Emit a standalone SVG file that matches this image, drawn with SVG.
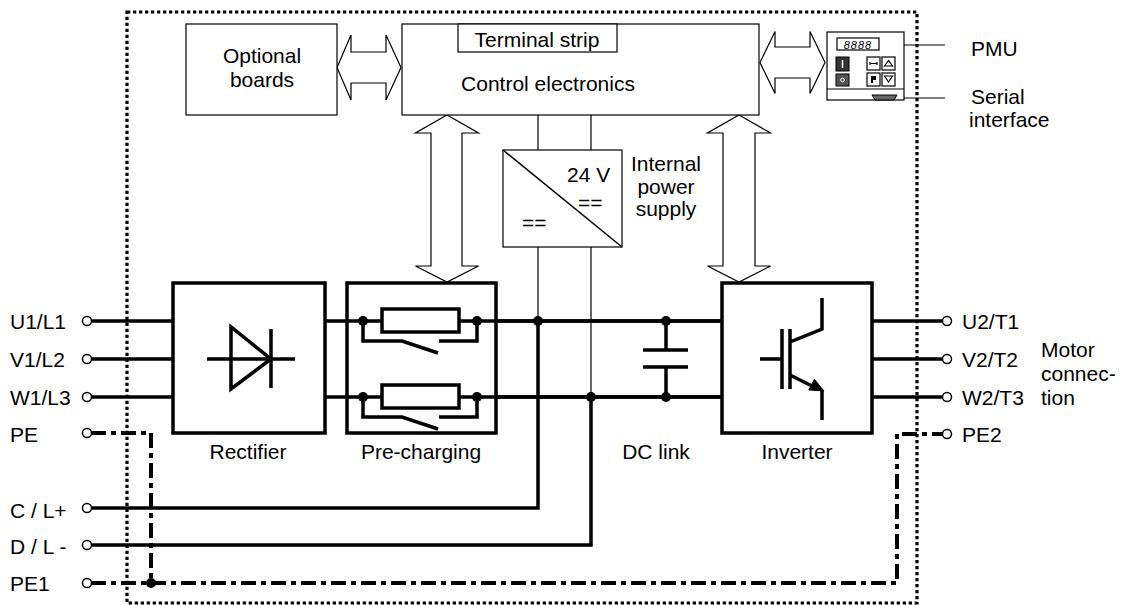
<svg xmlns="http://www.w3.org/2000/svg" width="1121" height="605" viewBox="0 0 1121 605">
<style>
text{font-family:"Liberation Sans",Arial,sans-serif;font-size:21px;fill:#000}
.thin{fill:#fff;stroke:#000;stroke-width:1.2}
.box{fill:#fff;stroke:#000;stroke-width:3.5}
.w{fill:none;stroke:#000;stroke-width:3.5}
.wt{fill:none;stroke:#000;stroke-width:1.2}
.pe{fill:none;stroke:#000;stroke-width:4;stroke-dasharray:15 5 5 5}
.term{fill:#fff;stroke:#000;stroke-width:1.5}
.dot{fill:#000}
.mid{text-anchor:middle}
</style>
<rect width="1121" height="605" fill="#fff"/>

<g id="connectors">
  <path class="w" d="M91 321H173M91 359H173M91 397H173"/>
  <path class="w" d="M325 321H722M325 397H722"/>
  <path class="w" d="M872 321H943M872 359H943M872 397H943"/>
  <path class="w" d="M91 508H538V321M91 545H591V397"/>
  <path class="wt" d="M538 115V321M591 115V397"/>
  <path class="pe" d="M91 433H151V583"/>
  <path class="pe" d="M91 583H897V434H943"/>
  <circle class="dot" cx="151" cy="583" r="5"/>
  <path class="w" d="M666 321V350M643 350H688M643 367H688M666 367V397"/>
  <circle class="dot" cx="538" cy="321" r="5"/>
  <circle class="dot" cx="591" cy="397" r="5"/>
  <circle class="dot" cx="666" cy="321" r="5"/>
  <circle class="dot" cx="666" cy="397" r="5"/>
  <polygon class="thin" points="337,67.5 351,35 351,52 386,52 386,35 401,67.5 386,100 386,83 351,83 351,100"/>
  <polygon class="thin" points="760,62.5 775,31.5 775,47 810,47 810,31.5 825,62.5 810,93.5 810,78 775,78 775,93.5"/>
  <polygon class="thin" points="447,115 478.5,133 462,133 462,266 478.5,266 447,282 415.5,266 431,266 431,133 415.5,133"/>
  <polygon class="thin" points="739,115 770.5,133 755,133 755,266 770.5,266 739,282 707.5,266 723,266 723,133 707.5,133"/>
  <path class="wt" d="M892 45H945M897 98H945"/>
</g>

<g id="terminals">
  <circle class="term" cx="87" cy="321" r="4.5"/>
  <circle class="term" cx="87" cy="359" r="4.5"/>
  <circle class="term" cx="87" cy="397" r="4.5"/>
  <circle class="term" cx="87" cy="433" r="4.5"/>
  <circle class="term" cx="87" cy="508" r="4.5"/>
  <circle class="term" cx="87" cy="545" r="4.5"/>
  <circle class="term" cx="87" cy="583" r="4.5"/>
  <circle class="term" cx="947" cy="321" r="4.5"/>
  <circle class="term" cx="947" cy="359" r="4.5"/>
  <circle class="term" cx="947" cy="397" r="4.5"/>
  <circle class="term" cx="947" cy="434" r="4.5"/>
  <text x="10" y="329">U1/L1</text>
  <text x="10" y="367">V1/L2</text>
  <text x="10" y="405">W1/L3</text>
  <text x="10" y="442">PE</text>
  <text x="10" y="518">C / L+</text>
  <text x="10" y="554">D / L -</text>
  <text x="10" y="591">PE1</text>
  <text x="962" y="329">U2/T1</text>
  <text x="962" y="367">V2/T2</text>
  <text x="962" y="405">W2/T3</text>
  <text x="962" y="442">PE2</text>
  <text x="1041" y="357">Motor</text>
  <text x="1041" y="381">connec-</text>
  <text x="1041" y="405">tion</text>
</g>

<g id="optional-boards">
  <rect class="thin" x="186" y="24" width="151" height="91"/>
  <text class="mid" x="262" y="63">Optional</text>
  <text class="mid" x="262" y="87">boards</text>
</g>

<g id="control-electronics">
  <rect class="thin" x="402" y="24" width="357" height="91"/>
  <rect class="thin" x="458" y="24" width="159" height="28"/>
  <text class="mid" x="537" y="47">Terminal strip</text>
  <text class="mid" x="548" y="91">Control electronics</text>
</g>

<g id="pmu">
  <rect class="thin" x="827" y="32" width="77" height="68"/>
  <line class="wt" x1="827" y1="89" x2="904" y2="89"/>
  <rect class="thin" x="837" y="38" width="42" height="12"/>
  <text class="mid" x="858" y="48.5" style="font-size:11px;font-style:italic;letter-spacing:1px">8888</text>
  <rect x="836" y="57" width="13" height="14" fill="#333" stroke="#000" stroke-width="1"/>
  <line x1="842.5" y1="60" x2="842.5" y2="68" stroke="#fff" stroke-width="1.5"/>
  <rect x="836" y="74" width="13" height="12" fill="#555" stroke="#000" stroke-width="1"/>
  <circle cx="842.5" cy="80" r="1.8" fill="none" stroke="#fff" stroke-width="1"/>
  <rect class="thin" x="867" y="57" width="13" height="13"/>
  <path d="M870 63.5H877M870 62V65M877 62V65" stroke="#000" stroke-width="1.2" fill="none"/>
  <rect class="thin" x="882" y="57" width="13" height="13"/>
  <path d="M884.5 66L888.5 60.5L892.5 66Z" fill="none" stroke="#000" stroke-width="1.2"/>
  <rect class="thin" x="867" y="73" width="13" height="13"/>
  <path d="M871 76H876V80H873V83H871Z" fill="#000"/>
  <rect class="thin" x="882" y="73" width="13" height="13"/>
  <path d="M884.5 76L888.5 82L892.5 76Z" fill="none" stroke="#000" stroke-width="1.2"/>
  <path d="M872 95H897L894 100H875Z" fill="#666" stroke="#000" stroke-width="1"/>
  <text x="971" y="56">PMU</text>
  <text x="971" y="104">Serial</text>
  <text x="969" y="127">interface</text>
</g>

<g id="power-supply">
  <rect class="thin" x="503" y="150" width="119" height="97"/>
  <line x1="503" y1="150" x2="622" y2="247" stroke="#000" stroke-width="1.5"/>
  <text x="567" y="182">24 V</text>
  <text x="578" y="210">==</text>
  <text x="522" y="230">==</text>
  <text class="mid" x="666" y="171">Internal</text>
  <text class="mid" x="666" y="194">power</text>
  <text class="mid" x="666" y="216">supply</text>
</g>

<g id="rectifier">
  <rect class="box" x="173" y="283" width="152" height="150"/>
  <path class="w" d="M207 359H295M271 329V388"/>
  <path class="w" d="M231 327V389L271 359Z" stroke-linejoin="miter"/>
  <text class="mid" x="248" y="459">Rectifier</text>
</g>

<g id="pre-charging">
  <rect class="box" x="347" y="283" width="149" height="150" fill="none"/>
  <path class="w" d="M347 321H722M347 397H722"/>
  <rect class="box" x="382" y="309" width="77" height="23"/>
  <rect class="box" x="382" y="385" width="77" height="23"/>
  <path class="w" d="M363 321V341H402L438 353M439 341H477V321"/>
  <path class="w" d="M363 397V417H402L438 429M439 417H477V397"/>
  <circle class="dot" cx="363" cy="321" r="5"/>
  <circle class="dot" cx="477" cy="321" r="5"/>
  <circle class="dot" cx="363" cy="397" r="5"/>
  <circle class="dot" cx="477" cy="397" r="5"/>
  <text class="mid" x="421" y="459">Pre-charging</text>
</g>

<g id="dc-link">
  <text class="mid" x="656" y="459">DC link</text>
</g>

<g id="inverter">
  <rect class="box" x="722" y="283" width="150" height="150"/>
  <path class="w" d="M760 359H782M782 329V389M790 329V389M790 342L822 329V298M790 375L815 387.5M822 390V420"/>
  <polygon points="824,391 808.9,389.9 814.3,379.3" fill="#000" stroke="#000" stroke-width="1"/>
  <text class="mid" x="797" y="459">Inverter</text>
</g>

<g id="enclosure">
  <rect x="127" y="12" width="790" height="591" fill="none" stroke="#000" stroke-width="3.2" stroke-dasharray="3.3 2.7"/>
</g>
</svg>
